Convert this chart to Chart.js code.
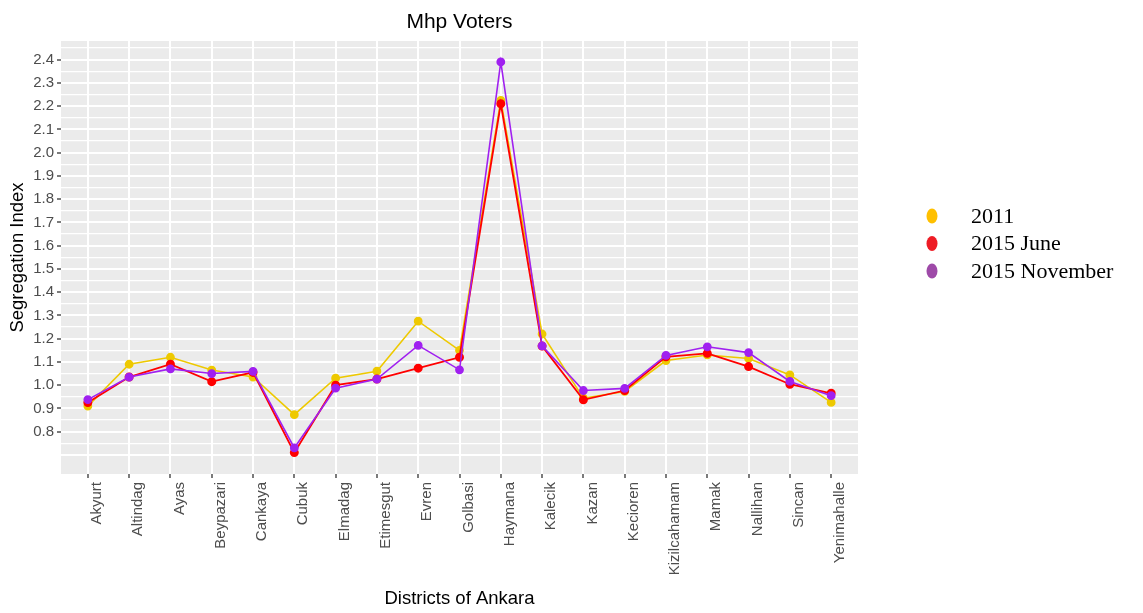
<!DOCTYPE html>
<html>
<head>
<meta charset="utf-8">
<title>Mhp Voters</title>
<script src="https://cdn.jsdelivr.net/npm/chart.js@4/dist/chart.umd.min.js"></script>
<style>
  html, body { margin: 0; padding: 0; background: #fff; }
  #wrap { width: 1143px; height: 613px; position: relative; }
</style>
</head>
<body>
<div id="wrap"><canvas id="myChart" width="1143" height="613"></canvas></div>
<script>
// dados
const districts = ['Akyurt', 'Altindag', 'Ayas', 'Beypazari', 'Cankaya', 'Cubuk', 'Elmadag', 'Etimesgut', 'Evren', 'Golbasi',
    'Haymana', 'Kalecik', 'Kazan', 'Kecioren', 'Kizilcahamam', 'Mamak', 'Nallihan', 'Sincan', 'Yenimahalle'];
const v2011 = [0.91, 1.09, 1.12, 1.065, 1.035, 0.873, 1.03, 1.06, 1.275, 1.15, 2.225, 1.22, 0.944, 0.973, 1.106, 1.13, 1.115, 1.044, 0.926];
const vJune = [0.925, 1.035, 1.09, 1.015, 1.055, 0.71, 1.0, 1.026, 1.073, 1.12, 2.21, 1.168, 0.937, 0.977, 1.122, 1.137, 1.08, 1.004, 0.965];
const vNovember = [0.938, 1.035, 1.07, 1.05, 1.059, 0.73, 0.987, 1.026, 1.171, 1.066, 2.39, 1.169, 0.977, 0.986, 1.128, 1.165, 1.14, 1.016, 0.955];
const yTickLabels = ['0.8', '0.9', '1.0', '1.1', '1.2', '1.3', '1.4', '1.5', '1.6', '1.7', '1.8', '1.9', '2.0', '2.1', '2.2', '2.3', '2.4'];
const seriesNames = ['2011', '2015 June', '2015 November'];
const lineColors = ['#EEC900', '#FF0000', '#A020F0'];
const legendColors = ['#FFC000', '#EE1C25', '#9E4AA8'];

function toPoints(valores) {
    return valores.map((v, i) => ({ x: i, y: v }));
}

function isMajor(v) {
    return Math.round(v * 20) % 2 === 0;
}
function hasLabel(v) {
    return yTickLabels.includes(v.toFixed(1)) && isMajor(v);
}

// fundo cinza do painel, titulo e legenda
const painelPlugin = {
    id: 'painel',
    beforeDraw(chart) {
        const { ctx, chartArea } = chart;
        ctx.save();
        ctx.fillStyle = '#EBEBEB';
        ctx.fillRect(chartArea.left, chartArea.top, chartArea.right - chartArea.left, chartArea.bottom - chartArea.top);
        ctx.restore();
    },
    afterDraw(chart) {
        const { ctx, chartArea } = chart;
        ctx.save();
        ctx.fillStyle = '#000';
        ctx.font = '21px "Liberation Sans", Arial, sans-serif';
        ctx.textAlign = 'center';
        ctx.textBaseline = 'middle';
        ctx.fillText('Mhp Voters', (chartArea.left + chartArea.right) / 2, 22);

        ctx.font = '22px "Liberation Serif", "Times New Roman", serif';
        ctx.textAlign = 'left';
        seriesNames.forEach((nome, i) => {
            const y = 216 + i * 27.5;
            ctx.fillStyle = legendColors[i];
            ctx.beginPath();
            ctx.ellipse(932, y, 5.5, 7.5, 0, 0, Math.PI * 2);
            ctx.fill();
            ctx.fillStyle = '#000';
            ctx.fillText(nome, 971, y + 1);
        });
        ctx.restore();
    }
};

const dados = {
    datasets: [
        { label: seriesNames[0], data: toPoints(v2011), borderColor: lineColors[0], backgroundColor: lineColors[0], borderWidth: 1.6, order: 3 },
        { label: seriesNames[1], data: toPoints(vJune), borderColor: lineColors[1], backgroundColor: lineColors[1], borderWidth: 1.8, order: 2 },
        { label: seriesNames[2], data: toPoints(vNovember), borderColor: lineColors[2], backgroundColor: lineColors[2], borderWidth: 1.6, order: 1 }
    ]
};

const config = {
    type: 'line',
    data: dados,
    options: {
        responsive: false,
        animation: false,
        elements: {
            point: { radius: 3.6, borderWidth: 0 },
            line: { tension: 0 }
        },
        layout: {
            padding: { top: 41, right: 285, left: 0, bottom: 0 }
        },
        scales: {
            x: {
                type: 'linear',
                min: -0.65,
                max: 18.65,
                afterBuildTicks: (scale) => {
                    scale.ticks = districts.map((d, i) => ({ value: i }));
                },
                afterFit: (scale) => { scale.height = 139; },
                ticks: {
                    autoSkip: false,
                    maxRotation: 90,
                    minRotation: 90,
                    padding: 4,
                    labelOffset: 9,
                    color: '#4D4D4D',
                    font: { family: '"Liberation Sans", Arial, sans-serif', size: 15 },
                    callback: (valor) => districts[valor] || ''
                },
                grid: {
                    color: '#FFFFFF',
                    lineWidth: 2,
                    tickColor: '#333333',
                    tickWidth: 1.3,
                    tickLength: 4
                },
                border: { display: false },
                title: {
                    display: true,
                    text: 'Districts of Ankara',
                    color: '#000',
                    font: { family: '"Liberation Sans", Arial, sans-serif', size: 18.5 },
                    padding: { top: 0, bottom: 3 }
                }
            },
            y: {
                min: 0.618,
                max: 2.48,
                afterBuildTicks: (scale) => {
                    const t = [];
                    for (let i = 14; i <= 49; i++) t.push({ value: i / 20 });
                    scale.ticks = t;
                },
                afterFit: (scale) => { scale.width = 61; },
                ticks: {
                    autoSkip: false,
                    padding: 3,
                    color: '#4D4D4D',
                    font: { family: '"Liberation Sans", Arial, sans-serif', size: 15 },
                    callback: (valor) => hasLabel(valor) ? valor.toFixed(1) : ''
                },
                grid: {
                    color: '#FFFFFF',
                    lineWidth: (c) => isMajor(c.tick.value) ? 2 : 1.2,
                    tickColor: (c) => hasLabel(c.tick.value) ? '#333333' : 'rgba(0,0,0,0)',
                    tickWidth: 1.3,
                    tickLength: 4
                },
                border: { display: false },
                title: {
                    display: true,
                    text: 'Segregation Index',
                    color: '#000',
                    font: { family: '"Liberation Sans", Arial, sans-serif', size: 18.5 },
                    padding: { top: 7, bottom: 0 }
                }
            }
        },
        plugins: {
            legend: { display: false },
            tooltip: { enabled: false },
            title: { display: false }
        }
    },
    plugins: [painelPlugin]
};

const ctx = document.getElementById('myChart').getContext('2d');
new Chart(ctx, config);
</script>
</body>
</html>
